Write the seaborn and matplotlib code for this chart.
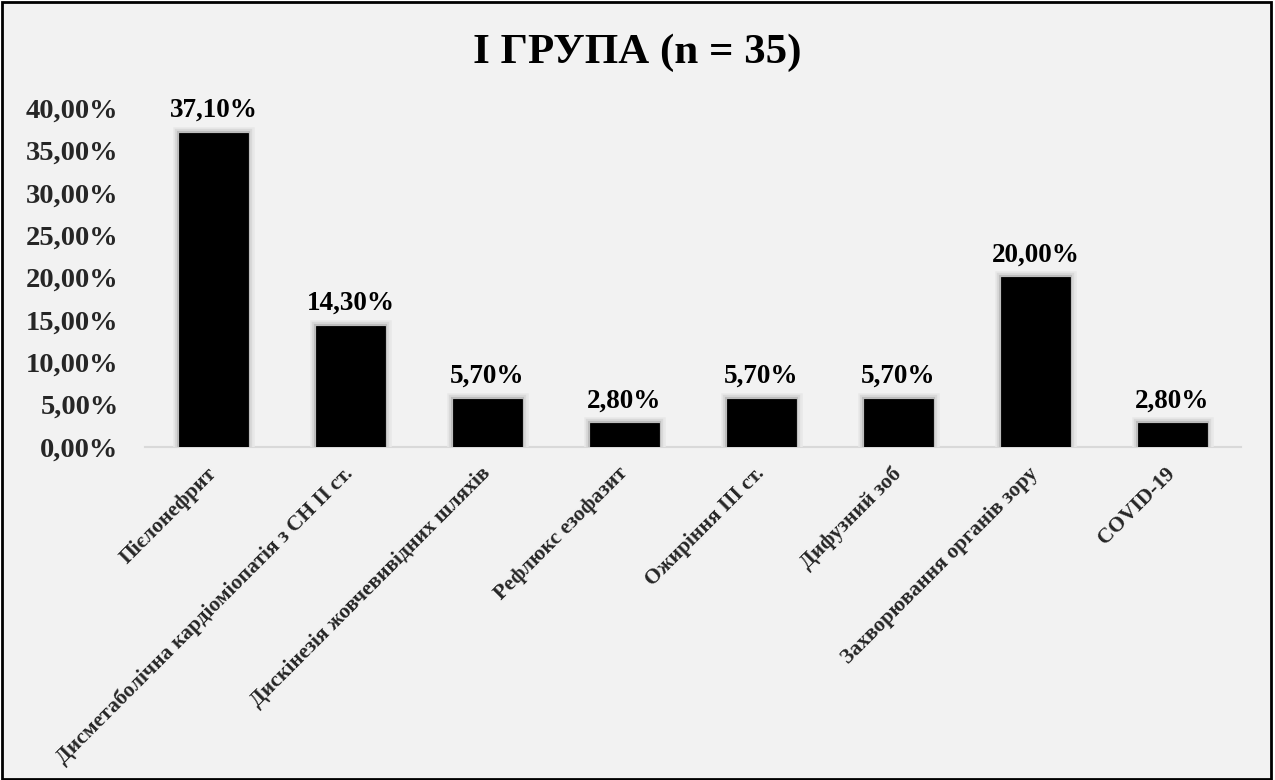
import matplotlib
matplotlib.use("Agg")
import matplotlib.pyplot as plt
import matplotlib.patheffects as pe
from matplotlib.patches import Rectangle
import seaborn as sns
import pandas as pd

# Disease categories and their share in group I (percent)
categories = [
    "Пієлонефрит",
    "Дисметаболічна кардіоміопатія з СН ІІ ст.",
    "Дискінезія жовчевивідних шляхів",
    "Рефлюкс езофазит",
    "Ожиріння ІІІ ст.",
    "Дифузний зоб",
    "Захворювання органів зору",
    "COVID-19",
]
shares = [37.10, 14.30, 5.70, 2.80, 5.70, 5.70, 20.00, 2.80]
y_ticks = [0, 5, 10, 15, 20, 25, 30, 35, 40]
title = "І ГРУПА (n = 35)"

sns.set_style("white")
plt.rcParams["font.family"] = ["Liberation Serif", "DejaVu Serif"]
plt.rcParams["font.weight"] = "bold"

BG = "#f2f2f2"

def pct(v):
    return f"{v:.2f}".replace(".", ",") + "%"

fig = plt.figure(figsize=(12.75, 7.8), dpi=100, facecolor="white")
fig.patches.append(Rectangle((2 / 1275, 1 / 780), 1269 / 1275, 777 / 780,
                             transform=fig.transFigure, facecolor=BG,
                             edgecolor="black", linewidth=2.0, zorder=-1))

ax = fig.add_axes([145 / 1275, 1 - 447 / 780, 1096 / 1275, 339 / 780])
ax.set_facecolor("none")

df = pd.DataFrame({"category": categories, "share": shares})
sns.barplot(data=df, x="category", y="share", color="black", width=0.5,
            saturation=1, ax=ax, zorder=3)

# soft grey glow around each bar
glow = [pe.Stroke(linewidth=9, foreground="#e8e8e8"),
        pe.Stroke(linewidth=6, foreground="#d9d9d9"),
        pe.Stroke(linewidth=3, foreground="#bdbdbd"),
        pe.Normal()]
for bar in ax.patches:
    bar.set_edgecolor("black")
    bar.set_linewidth(0.6)
    bar.set_path_effects(glow)

for i, v in enumerate(shares):
    ax.annotate(pct(v), xy=(i, v), xytext=(0, 7), textcoords="offset points",
                ha="center", va="bottom", fontsize=19.5, fontweight="bold",
                color="black")

ax.set_xlim(-0.5, len(categories) - 0.5)
ax.set_ylim(0, 40)
ax.set_yticks(y_ticks)
ax.set_yticklabels([pct(t) for t in y_ticks], fontsize=20.5, fontweight="bold")
ax.set_xticks(range(len(categories)))
ax.set_xticklabels(categories, rotation=45, ha="right", va="center",
                   rotation_mode="anchor", fontsize=15.5, fontweight="bold")
ax.tick_params(axis="y", length=0, pad=19)
ax.tick_params(axis="x", length=0, pad=17)
ax.set_xlabel("")
ax.set_ylabel("")

for s in ["top", "right", "left"]:
    ax.spines[s].set_visible(False)
ax.spines["bottom"].set_color("#d9d9d9")
ax.spines["bottom"].set_linewidth(1.5)
ax.spines["bottom"].set_zorder(2)

fig.text(0.5, 1 - 53 / 780, title, ha="center", va="center",
         fontsize=31, fontweight="bold", color="black")

fig.savefig("out.png", dpi=100, facecolor=fig.get_facecolor())
